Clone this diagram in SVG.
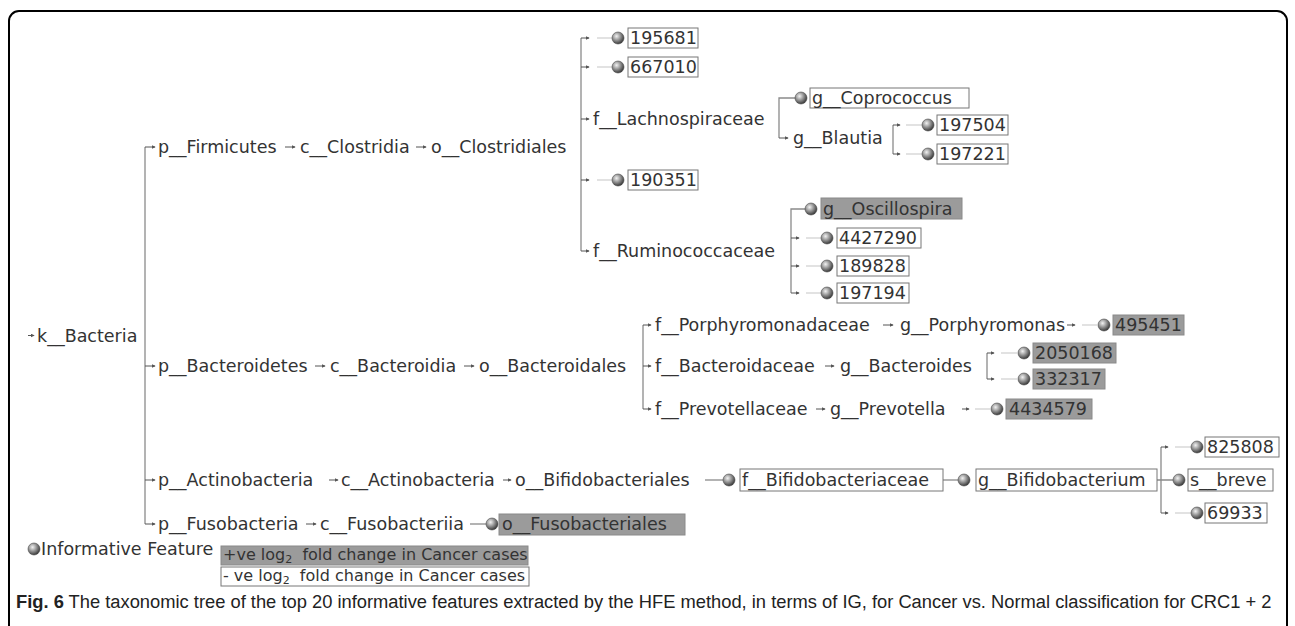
<svg xmlns="http://www.w3.org/2000/svg" width="1295" height="626" viewBox="0 0 1295 626">
<defs>
<style>
.t{font-family:"DejaVu Sans",Verdana,sans-serif;font-size:17.5px;fill:#333}
.lg{font-family:"DejaVu Sans",Verdana,sans-serif;font-size:16px;fill:#333;white-space:pre}
.bx{fill:#fff;stroke:#777;stroke-width:1}
.gb{fill:#9b9b9b;stroke:#8a8a8a;stroke-width:1}
.ln{stroke:#8a8a8a;stroke-width:1.3;fill:none}
.fl{stroke:#cfcfcf;stroke-width:1.2}
.ar{stroke:#555;stroke-width:1;marker-end:url(#ah)}
</style>
<marker id="ah" viewBox="0 0 6 6" refX="5" refY="3" markerWidth="4" markerHeight="4" orient="auto" markerUnits="userSpaceOnUse"><path d="M0,0 L6,3 L0,6 z" fill="#555"/></marker>
<radialGradient id="bg" cx="38%" cy="35%" r="65%"><stop offset="0" stop-color="#f2f2f2"/><stop offset="0.45" stop-color="#a0a0a0"/><stop offset="1" stop-color="#3c3c3c"/></radialGradient>
<circle id="ball" r="6" fill="url(#bg)" stroke="#4a4a4a" stroke-width="0.6"/>
</defs>
<rect x="9" y="11" width="1278" height="640" rx="10" fill="#fff" stroke="#000" stroke-width="2"/>

<g id="connectors">
<path class="ln" d="M145,147 V524"/>
<line class="ar" x1="145" y1="147" x2="155" y2="147"/>
<line class="ar" x1="145" y1="366" x2="155" y2="366"/>
<line class="ar" x1="145" y1="480" x2="155" y2="480"/>
<line class="ar" x1="145" y1="524" x2="155" y2="524"/>
<line class="ar" x1="28" y1="335.5" x2="34" y2="335.5"/>
<line class="ar" x1="285" y1="147" x2="295" y2="147"/>
<line class="ar" x1="416" y1="147" x2="426" y2="147"/>
<line class="ar" x1="315" y1="366" x2="325" y2="366"/>
<line class="ar" x1="464" y1="366" x2="474" y2="366"/>
<line class="ar" x1="329" y1="480" x2="338" y2="480"/>
<line class="ar" x1="503" y1="480" x2="511" y2="480"/>
<line class="ar" x1="306" y1="524" x2="316" y2="524"/>
<line class="ln" x1="470" y1="524" x2="486" y2="524"/>
<path class="ln" d="M581,38 V251"/>
<line class="ar" x1="581" y1="38" x2="589" y2="38"/>
<line class="ar" x1="581" y1="67" x2="589" y2="67"/>
<line class="ar" x1="581" y1="119" x2="589" y2="119"/>
<line class="ar" x1="581" y1="180" x2="589" y2="180"/>
<line class="ar" x1="581" y1="251" x2="589" y2="251"/>
<line class="fl" x1="597" y1="38" x2="612" y2="38"/>
<line class="fl" x1="597" y1="67" x2="612" y2="67"/>
<line class="fl" x1="597" y1="180" x2="612" y2="180"/>
<path class="ln" d="M796,98 H779 V138"/>
<line class="ar" x1="779" y1="138" x2="788" y2="138"/>
<path class="ln" d="M893,125 V154"/>
<line class="ar" x1="893" y1="125" x2="900" y2="125"/>
<line class="ar" x1="893" y1="154" x2="900" y2="154"/>
<line class="fl" x1="906" y1="125" x2="922" y2="125"/>
<line class="fl" x1="906" y1="154" x2="922" y2="154"/>
<path class="ln" d="M806,209 H791 V293"/>
<line class="ar" x1="791" y1="238" x2="799" y2="238"/>
<line class="ar" x1="791" y1="266" x2="799" y2="266"/>
<line class="ar" x1="791" y1="293" x2="799" y2="293"/>
<line class="fl" x1="806" y1="238" x2="821" y2="238"/>
<line class="fl" x1="806" y1="266" x2="821" y2="266"/>
<line class="fl" x1="806" y1="293" x2="821" y2="293"/>
<path class="ln" d="M643,325 V409"/>
<line class="ar" x1="643" y1="325" x2="651" y2="325"/>
<line class="ar" x1="643" y1="366" x2="651" y2="366"/>
<line class="ar" x1="643" y1="409" x2="651" y2="409"/>
<line class="ar" x1="883" y1="325" x2="893" y2="325"/>
<line class="ar" x1="1067" y1="325" x2="1075" y2="325"/>
<line class="fl" x1="1082" y1="325" x2="1097" y2="325"/>
<line class="ar" x1="825" y1="366" x2="834" y2="366"/>
<path class="ln" d="M987,353 V379"/>
<line class="ar" x1="987" y1="353" x2="994" y2="353"/>
<line class="ar" x1="987" y1="379" x2="994" y2="379"/>
<line class="fl" x1="1001" y1="353" x2="1017" y2="353"/>
<line class="fl" x1="1001" y1="379" x2="1017" y2="379"/>
<line class="ar" x1="816" y1="409" x2="825" y2="409"/>
<line class="ar" x1="962" y1="409" x2="969" y2="409"/>
<line class="fl" x1="975" y1="409" x2="990" y2="409"/>
<line class="ln" x1="705" y1="480" x2="723" y2="480"/>
<line class="ln" x1="943" y1="480" x2="958" y2="480"/>
<path class="ln" d="M1161,447 V513 M1157,480 H1173"/>
<line class="ar" x1="1161" y1="447" x2="1168" y2="447"/>
<line class="ar" x1="1161" y1="513" x2="1168" y2="513"/>
<line class="fl" x1="1175" y1="447" x2="1191" y2="447"/>
<line class="fl" x1="1175" y1="513" x2="1191" y2="513"/>
</g>

<g id="n-bacteria"><text class="t" x="37" y="341.5">k__Bacteria</text></g>
<g id="n-firmicutes"><text class="t" x="158" y="153">p__Firmicutes</text></g>
<g id="n-clostridia"><text class="t" x="300" y="153">c__Clostridia</text></g>
<g id="n-clostridiales"><text class="t" x="431" y="153">o__Clostridiales</text></g>
<g id="n-195681"><use href="#ball" x="618" y="38"/><rect class="bx" x="628" y="28" width="70" height="20"/><text class="t" x="630" y="44">195681</text></g>
<g id="n-667010"><use href="#ball" x="618" y="67"/><rect class="bx" x="628" y="57" width="70" height="20"/><text class="t" x="630" y="73">667010</text></g>
<g id="n-lachno"><text class="t" x="593" y="125">f__Lachnospiraceae</text></g>
<g id="n-coprococcus"><use href="#ball" x="801" y="98"/><rect class="bx" x="810" y="88" width="159" height="20"/><text class="t" x="812" y="104">g__Coprococcus</text></g>
<g id="n-blautia"><text class="t" x="793" y="144">g__Blautia</text></g>
<g id="n-197504"><use href="#ball" x="928" y="125"/><rect class="bx" x="937" y="115" width="71" height="20"/><text class="t" x="939" y="131">197504</text></g>
<g id="n-197221"><use href="#ball" x="928" y="154"/><rect class="bx" x="937" y="144" width="71" height="20"/><text class="t" x="939" y="160">197221</text></g>
<g id="n-190351"><use href="#ball" x="618" y="180"/><rect class="bx" x="628" y="170" width="70" height="20"/><text class="t" x="630" y="186">190351</text></g>
<g id="n-rumino"><text class="t" x="593" y="257">f__Ruminococcaceae</text></g>
<g id="n-oscillospira"><use href="#ball" x="811" y="209"/><rect class="gb" x="821" y="198" width="141" height="21"/><text class="t" x="823" y="215">g__Oscillospira</text></g>
<g id="n-4427290"><use href="#ball" x="827" y="238"/><rect class="bx" x="837" y="228" width="84" height="20"/><text class="t" x="839" y="244">4427290</text></g>
<g id="n-189828"><use href="#ball" x="827" y="266"/><rect class="bx" x="837" y="256" width="72" height="20"/><text class="t" x="839" y="272">189828</text></g>
<g id="n-197194"><use href="#ball" x="827" y="293"/><rect class="bx" x="837" y="283" width="72" height="20"/><text class="t" x="839" y="299">197194</text></g>
<g id="n-bacteroidetes"><text class="t" x="158" y="372">p__Bacteroidetes</text></g>
<g id="n-bacteroidia"><text class="t" x="330" y="372">c__Bacteroidia</text></g>
<g id="n-bacteroidales"><text class="t" x="479" y="372">o__Bacteroidales</text></g>
<g id="n-porphyromonadaceae"><text class="t" x="655" y="331">f__Porphyromonadaceae</text></g>
<g id="n-porphyromonas"><text class="t" x="900" y="331">g__Porphyromonas</text></g>
<g id="n-495451"><use href="#ball" x="1104" y="325"/><rect class="gb" x="1113" y="315" width="71" height="20"/><text class="t" x="1115" y="331">495451</text></g>
<g id="n-bacteroidaceae"><text class="t" x="655" y="372">f__Bacteroidaceae</text></g>
<g id="n-bacteroides"><text class="t" x="840" y="372">g__Bacteroides</text></g>
<g id="n-2050168"><use href="#ball" x="1024" y="353"/><rect class="gb" x="1033" y="343" width="83" height="20"/><text class="t" x="1035" y="359">2050168</text></g>
<g id="n-332317"><use href="#ball" x="1024" y="379"/><rect class="gb" x="1033" y="369" width="72" height="20"/><text class="t" x="1035" y="385">332317</text></g>
<g id="n-prevotellaceae"><text class="t" x="655" y="415">f__Prevotellaceae</text></g>
<g id="n-prevotella"><text class="t" x="830" y="415">g__Prevotella</text></g>
<g id="n-4434579"><use href="#ball" x="997" y="409"/><rect class="gb" x="1006" y="399" width="86" height="20"/><text class="t" x="1009" y="415">4434579</text></g>
<g id="n-actinobacteria-p"><text class="t" x="158" y="486">p__Actinobacteria</text></g>
<g id="n-actinobacteria-c"><text class="t" x="341" y="486">c__Actinobacteria</text></g>
<g id="n-bifidobacteriales"><text class="t" x="515" y="486">o__Bifidobacteriales</text></g>
<g id="n-bifidobacteriaceae"><use href="#ball" x="729" y="480"/><rect class="bx" x="740" y="469" width="203" height="22"/><text class="t" x="742" y="486">f__Bifidobacteriaceae</text></g>
<g id="n-bifidobacterium"><use href="#ball" x="964" y="480"/><rect class="bx" x="976" y="469" width="181" height="22"/><text class="t" x="978" y="486">g__Bifidobacterium</text></g>
<g id="n-breve"><use href="#ball" x="1179" y="480"/><rect class="bx" x="1188" y="469" width="85" height="22"/><text class="t" x="1190" y="486">s__breve</text></g>
<g id="n-825808"><use href="#ball" x="1197" y="447"/><rect class="bx" x="1205" y="437" width="74" height="20"/><text class="t" x="1207" y="453">825808</text></g>
<g id="n-69933"><use href="#ball" x="1197" y="513"/><rect class="bx" x="1205" y="503" width="62" height="20"/><text class="t" x="1207" y="519">69933</text></g>
<g id="n-fusobacteria"><text class="t" x="158" y="530">p__Fusobacteria</text></g>
<g id="n-fusobacteriia"><text class="t" x="320" y="530">c__Fusobacteriia</text></g>
<g id="n-fusobacteriales"><use href="#ball" x="492" y="524"/><rect class="gb" x="499" y="514" width="186" height="21"/><text class="t" x="502" y="530">o__Fusobacteriales</text></g>

<g id="legend">
<use href="#ball" x="34" y="549"/>
<text class="t" x="41" y="555">Informative Feature</text>
<rect class="gb" x="221" y="546" width="307" height="19"/>
<text class="lg" x="223" y="560">+ve log<tspan font-size="11" dy="3">2</tspan><tspan dy="-3">&#160; fold change in Cancer cases</tspan></text>
<rect class="bx" x="221" y="567" width="308" height="19"/>
<text class="lg" x="223" y="581">- ve log<tspan font-size="11" dy="3">2</tspan><tspan dy="-3">&#160; fold change in Cancer cases</tspan></text>
</g>

<g id="caption">
<text transform="translate(16,608) scale(0.9,1)" x="0" y="0" font-family="Liberation Sans, Arial, sans-serif" font-size="18.5" fill="#222" textLength="1395" lengthAdjust="spacingAndGlyphs"><tspan font-weight="bold">Fig. 6</tspan> The taxonomic tree of the top 20 informative features extracted by the HFE method, in terms of IG, for Cancer vs. Normal classification for CRC1 + 2</text>
</g>
</svg>
